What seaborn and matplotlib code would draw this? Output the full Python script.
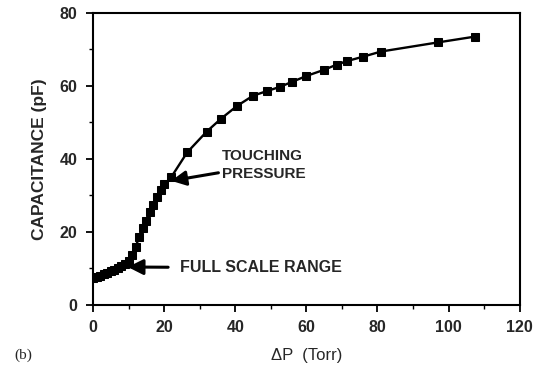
import matplotlib
matplotlib.use("Agg")
import matplotlib.pyplot as plt
import seaborn as sns
import pandas as pd
from matplotlib.ticker import MultipleLocator

pressure = [0, 1, 2, 3, 4, 5, 6, 7, 8, 9, 10, 11, 12, 13, 14, 15, 16, 17, 18, 19, 20, 22,
            26.5, 32, 36, 40.5, 45, 49, 52.5, 56, 60, 65, 68.5, 71.5, 76, 81, 97, 107.5]
capacitance = [7.5, 7.7, 8.0, 8.4, 8.8, 9.2, 9.7, 10.2, 10.7, 11.2, 12.0, 13.8, 16.0, 18.5,
               21.0, 23.0, 25.5, 27.5, 29.5, 31.5, 33.0, 35.0, 41.8, 47.5, 51.0, 54.5, 57.3,
               58.6, 59.7, 61.1, 62.7, 64.4, 65.8, 66.8, 68.0, 69.4, 71.9, 73.5]
x_ticks = [0, 20, 40, 60, 80, 100, 120]
y_ticks = [0, 20, 40, 60, 80]

df = pd.DataFrame({"dP": pressure, "C": capacitance})

sns.set_theme(style="ticks")
plt.rcParams["font.family"] = ["Liberation Sans", "DejaVu Sans"]

fig = plt.figure(figsize=(5.5, 3.77), dpi=100)
ax = fig.add_axes([0.169, 0.191, 0.776, 0.775])

sns.lineplot(data=df, x="dP", y="C", ax=ax, color="black", linewidth=1.7,
             marker="s", markersize=6, markerfacecolor="black",
             markeredgecolor="black", sort=False)

ax.set_xlim(0, 120)
ax.set_ylim(0, 80)
ax.set_xticks(x_ticks)
ax.set_yticks(y_ticks)
ax.xaxis.set_minor_locator(MultipleLocator(10))
ax.yaxis.set_minor_locator(MultipleLocator(10))
ax.tick_params(axis="both", which="major", direction="out", length=5, width=1.3,
               color="black", labelsize=11.5, pad=6)
ax.tick_params(axis="both", which="minor", direction="out", length=3, width=1.0, color="black")
for lab in ax.get_xticklabels() + ax.get_yticklabels():
    lab.set_fontweight("bold")
for s in ax.spines.values():
    s.set_linewidth(1.5)
    s.set_color("black")
    s.set_visible(True)

ax.set_xlabel("ΔP  (Torr)", fontsize=12, labelpad=9)
ax.set_ylabel("CAPACITANCE (pF)", fontsize=12.5, fontweight="bold", labelpad=9)

narrow = ["Liberation Sans Narrow", "Liberation Sans", "DejaVu Sans"]
ax.annotate("TOUCHING\nPRESSURE", xy=(22, 34), xytext=(36.2, 38.3),
            fontsize=11, fontweight="bold", family=narrow, va="center", ha="left",
            linespacing=1.35,
            arrowprops=dict(arrowstyle="-|>,head_length=0.8,head_width=0.4",
                            color="black", lw=2.2, shrinkA=0, shrinkB=0))
ax.annotate("FULL SCALE RANGE", xy=(9.8, 10.4), xytext=(24.4, 10.2),
            fontsize=11.5, fontweight="bold", family=narrow, va="center", ha="left",
            arrowprops=dict(arrowstyle="-|>,head_length=0.8,head_width=0.4",
                            color="black", lw=2.2, shrinkA=6, shrinkB=0))

fig.text(0.027, 0.058, "(b)", fontsize=11, family=["Liberation Serif", "DejaVu Serif"],
         ha="left", va="center")

fig.savefig("out.png", dpi=100, facecolor="white")
